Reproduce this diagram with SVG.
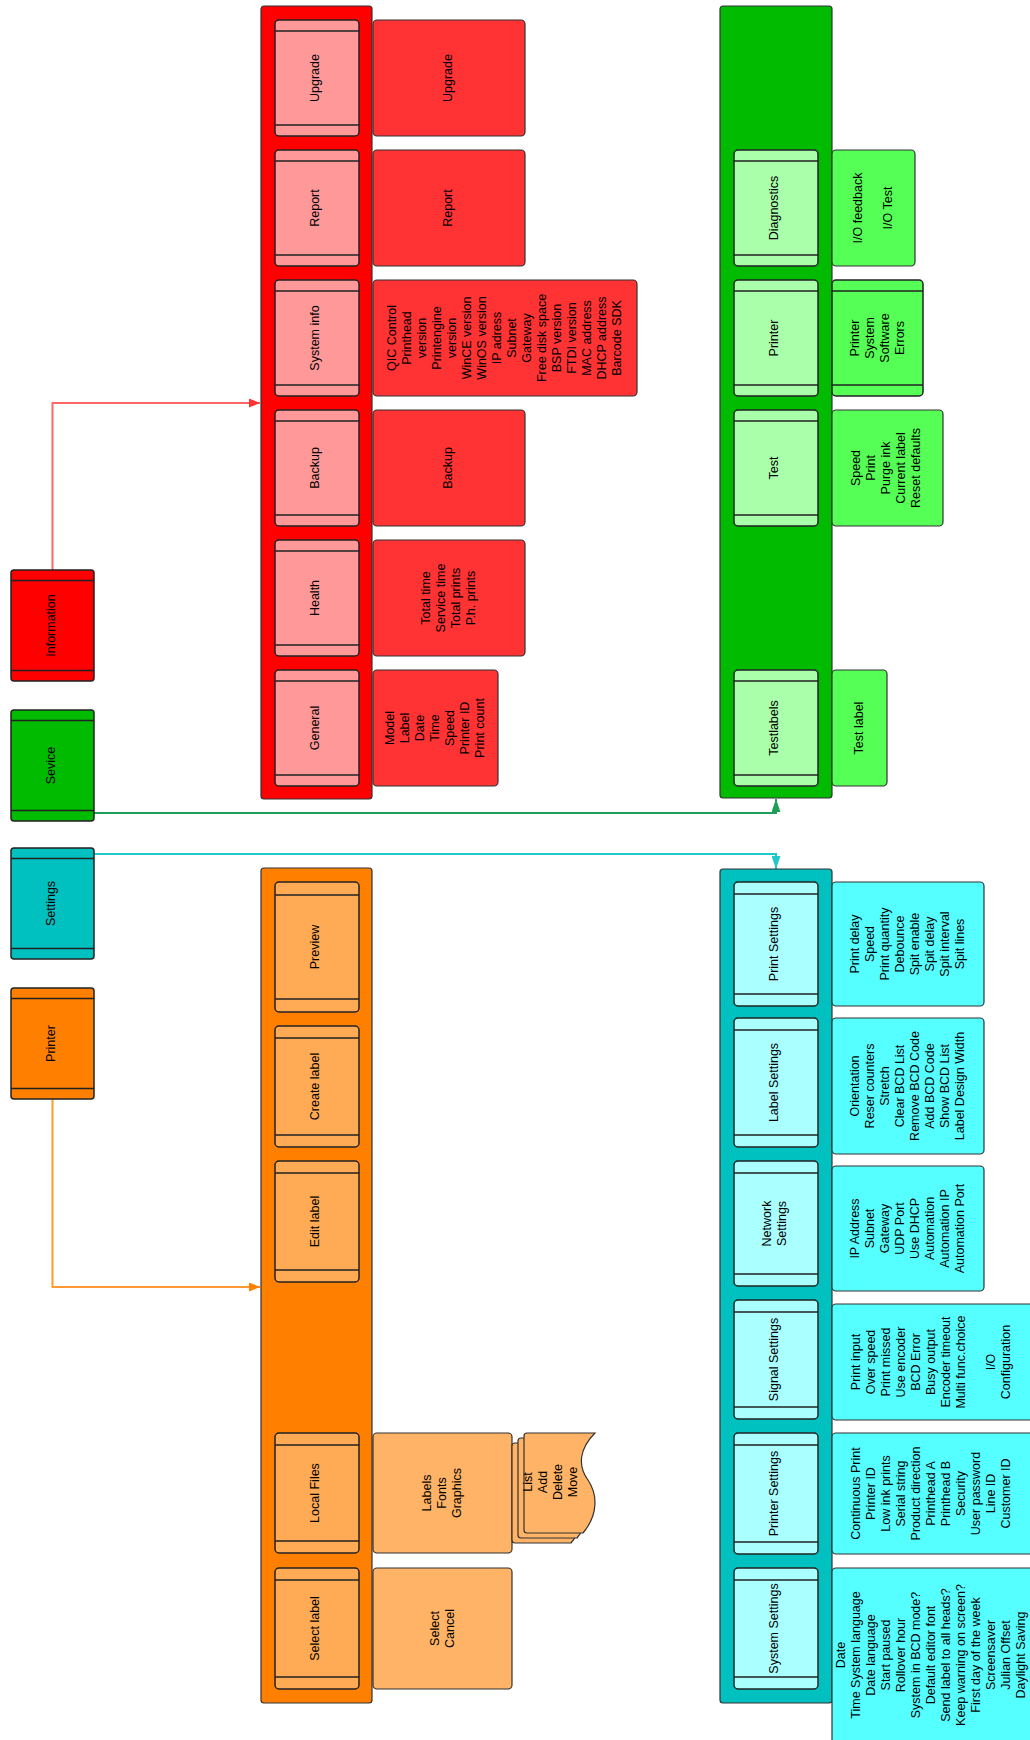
<svg xmlns="http://www.w3.org/2000/svg" width="1030" height="1740" viewBox="0 0 1030 1740">
<defs>
<style>
text{font-family:"Liberation Sans",Arial,sans-serif;font-size:12.5px;fill:#000;text-anchor:middle}
.box{stroke:#333;stroke-width:1.2}
.sub{stroke:#222;stroke-width:1.5}
.band{stroke:#222;stroke-width:1.5;fill:none}
.con{fill:none;stroke-width:2}
.r0{fill:#ff0000}.r1{fill:#ff9999}.r2{fill:#ff3333}
.o0{fill:#ff8000}.o1{fill:#ffaa55}.o2{fill:#ffb366}
.g0{fill:#00bb00}.g1{fill:#aaffaa}.g2{fill:#55ff55}
.c0{fill:#00c0c0}.c1{fill:#aaffff}.c2{fill:#55ffff}
</style>
<marker id="aR" viewBox="0 0 10 10" refX="10" refY="5" markerWidth="11" markerHeight="9" markerUnits="userSpaceOnUse" orient="auto" preserveAspectRatio="none"><path d="M0,0L10,5L0,10z" fill="#ff3333"/></marker>
<marker id="aO" viewBox="0 0 10 10" refX="10" refY="5" markerWidth="11" markerHeight="9" markerUnits="userSpaceOnUse" orient="auto" preserveAspectRatio="none"><path d="M0,0L10,5L0,10z" fill="#ff8000"/></marker>
<marker id="aG" viewBox="0 0 10 10" refX="10" refY="5" markerWidth="13" markerHeight="9" markerUnits="userSpaceOnUse" orient="auto" preserveAspectRatio="none"><path d="M0,0L10,5L0,10z" fill="#1f9e5a"/></marker>
<marker id="aC" viewBox="0 0 10 10" refX="10" refY="5" markerWidth="13" markerHeight="9" markerUnits="userSpaceOnUse" orient="auto" preserveAspectRatio="none"><path d="M0,0L10,5L0,10z" fill="#22c8c8"/></marker>
</defs>
<rect width="1030" height="1740" fill="#fff"/>

<g id="connectors">
<path class="con" d="M52.5,570V403H260" stroke="#ff6666" marker-end="url(#aR)"/>
<path class="con" d="M52.5,1099V1287H260" stroke="#ff9933" marker-end="url(#aO)"/>
<path class="con" d="M94,813H776V799" stroke="#1f9e5a" marker-end="url(#aG)"/>
<path class="con" d="M94,854H776V869" stroke="#22c8c8" marker-end="url(#aC)"/>
</g>

<!-- top level -->
<g id="information">
<rect class="sub r0" x="11" y="570" width="83" height="111" rx="3"/>
<path class="band" d="M11,580.5H94M11,670.5H94"/>
<text transform="translate(52.5 625.5) rotate(-90)" y="2.5">Information</text>
</g>
<g id="service">
<rect class="sub g0" x="11" y="710" width="83" height="111" rx="3"/>
<path class="band" d="M11,720.5H94M11,810.5H94"/>
<text transform="translate(52.5 765.5) rotate(-90)" y="2.5">Sevice</text>
</g>
<g id="settings">
<rect class="sub c0" x="11" y="848" width="83" height="111" rx="3"/>
<path class="band" d="M11,858.5H94M11,948.5H94"/>
<text transform="translate(52.5 903.5) rotate(-90)" y="2.5">Settings</text>
</g>
<g id="printer">
<rect class="sub o0" x="11" y="988" width="83" height="111" rx="3"/>
<path class="band" d="M11,998.5H94M11,1088.5H94"/>
<text transform="translate(52.5 1043.5) rotate(-90)" y="2.5">Printer</text>
</g>

<!-- Information container -->
<g id="info-container">
<rect class="box r0" x="261" y="6" width="111" height="793" rx="3"/>
</g>
<g id="info-upgrade">
<rect class="sub r1" x="275" y="20" width="84" height="116" rx="4"/>
<path class="band" d="M275,31H359M275,125H359"/>
<text transform="translate(317 78) rotate(-90)" y="2">Upgrade</text>
</g>
<g id="info-report">
<rect class="sub r1" x="275" y="150" width="84" height="116" rx="4"/>
<path class="band" d="M275,161H359M275,255H359"/>
<text transform="translate(317 208) rotate(-90)" y="2">Report</text>
</g>
<g id="info-sysinfo">
<rect class="sub r1" x="275" y="280" width="84" height="116" rx="4"/>
<path class="band" d="M275,291H359M275,385H359"/>
<text transform="translate(317 338) rotate(-90)" y="2">System info</text>
</g>
<g id="info-backup">
<rect class="sub r1" x="275" y="410" width="84" height="116" rx="4"/>
<path class="band" d="M275,421H359M275,515H359"/>
<text transform="translate(317 468) rotate(-90)" y="2">Backup</text>
</g>
<g id="info-health">
<rect class="sub r1" x="275" y="540" width="84" height="116" rx="4"/>
<path class="band" d="M275,551H359M275,645H359"/>
<text transform="translate(317 598) rotate(-90)" y="2">Health</text>
</g>
<g id="info-general">
<rect class="sub r1" x="275" y="670" width="84" height="116" rx="4"/>
<path class="band" d="M275,681H359M275,775H359"/>
<text transform="translate(317 728) rotate(-90)" y="2">General</text>
</g>

<g id="info-upgrade-detail">
<rect class="box r2" x="373" y="20" width="152" height="116" rx="4"/>
<text transform="translate(449 78) rotate(-90)" y="3">Upgrade</text>
</g>
<g id="info-report-detail">
<rect class="box r2" x="373" y="150" width="152" height="116" rx="4"/>
<text transform="translate(449 208) rotate(-90)" y="3">Report</text>
</g>
<g id="info-sysinfo-detail">
<rect class="box r2" x="373" y="280" width="264" height="116" rx="4"/>
<text transform="translate(504 338) rotate(-90)">
<tspan x="0" y="-108">QIC Control</tspan><tspan x="0" y="-93">Printhead</tspan><tspan x="0" y="-78">version</tspan><tspan x="0" y="-63">Printengine</tspan><tspan x="0" y="-48">version</tspan><tspan x="0" y="-33">WinCE version</tspan><tspan x="0" y="-18">WinOS version</tspan><tspan x="0" y="-3">IP adress</tspan><tspan x="0" y="12">Subnet</tspan><tspan x="0" y="27">Gateway</tspan><tspan x="0" y="42">Free disk space</tspan><tspan x="0" y="57">BSP version</tspan><tspan x="0" y="72">FTDI version</tspan><tspan x="0" y="87">MAC address</tspan><tspan x="0" y="102">DHCP address</tspan><tspan x="0" y="117">Barcode SDK</tspan>
</text>
</g>
<g id="info-backup-detail">
<rect class="box r2" x="373" y="410" width="152" height="116" rx="4"/>
<text transform="translate(449 468) rotate(-90)" y="3">Backup</text>
</g>
<g id="info-health-detail">
<rect class="box r2" x="373" y="540" width="152" height="116" rx="4"/>
<text transform="translate(448 598) rotate(-90)">
<tspan x="0" y="-18">Total time</tspan><tspan x="0" y="-3">Service time</tspan><tspan x="0" y="12">Total prints</tspan><tspan x="0" y="27">P.h. prints</tspan>
</text>
</g>
<g id="info-general-detail">
<rect class="box r2" x="373" y="670" width="125" height="116" rx="4"/>
<text transform="translate(434 728) rotate(-90)">
<tspan x="0" y="-40.5">Model</tspan><tspan x="0" y="-25.5">Label</tspan><tspan x="0" y="-10.5">Date</tspan><tspan x="0" y="4.5">Time</tspan><tspan x="0" y="19.5">Speed</tspan><tspan x="0" y="34.5">Printer ID</tspan><tspan x="0" y="49.5">Print count</tspan>
</text>
</g>

<!-- Printer container -->
<g id="printer-container">
<rect class="box o0" x="261" y="868" width="111" height="835" rx="3"/>
</g>
<g id="printer-preview">
<rect class="sub o1" x="275" y="882" width="84" height="130" rx="4"/>
<path class="band" d="M275,895H359M275,999H359"/>
<text transform="translate(317 947) rotate(-90)" y="2">Preview</text>
</g>
<g id="printer-create">
<rect class="sub o1" x="275" y="1026" width="84" height="121" rx="4"/>
<path class="band" d="M275,1038H359M275,1135H359"/>
<text transform="translate(317 1086.5) rotate(-90)" y="2">Create label</text>
</g>
<g id="printer-edit">
<rect class="sub o1" x="275" y="1161" width="84" height="121" rx="4"/>
<path class="band" d="M275,1173H359M275,1270H359"/>
<text transform="translate(317 1221.5) rotate(-90)" y="2">Edit label</text>
</g>
<g id="printer-local">
<rect class="sub o1" x="275" y="1433" width="84" height="120" rx="4"/>
<path class="band" d="M275,1445H359M275,1541H359"/>
<text transform="translate(317 1493) rotate(-90)" y="2">Local Files</text>
</g>
<g id="printer-select">
<rect class="sub o1" x="275" y="1568" width="84" height="121" rx="4"/>
<path class="band" d="M275,1580H359M275,1677H359"/>
<text transform="translate(317 1628.5) rotate(-90)" y="2">Select label</text>
</g>
<g id="printer-local-detail">
<rect class="box o2" x="373" y="1433" width="139" height="120" rx="4"/>
<text transform="translate(441 1493) rotate(-90)">
<tspan x="0" y="-10.5">Labels</tspan><tspan x="0" y="4.5">Fonts</tspan><tspan x="0" y="19.5">Graphics</tspan>
</text>
</g>
<g id="printer-select-detail">
<rect class="box o2" x="373" y="1568" width="139" height="121" rx="4"/>
<text transform="translate(442 1628.5) rotate(-90)">
<tspan x="0" y="-3">Select</tspan><tspan x="0" y="12">Cancel</tspan>
</text>
</g>
<g id="printer-files-docs">
<path class="box o2" transform="translate(-12 10)" d="M524,1436Q524,1433 527,1433H595C580,1448 577,1465 588,1480C598,1495 598,1515 583,1533H527Q524,1533 524,1530Z"/>
<path class="box o2" transform="translate(-6 5)" d="M524,1436Q524,1433 527,1433H595C580,1448 577,1465 588,1480C598,1495 598,1515 583,1533H527Q524,1533 524,1530Z"/>
<path class="box o2" d="M524,1436Q524,1433 527,1433H595C580,1448 577,1465 588,1480C598,1495 598,1515 583,1533H527Q524,1533 524,1530Z"/>
<text transform="translate(550 1482) rotate(-90)">
<tspan x="0" y="-18">List</tspan><tspan x="0" y="-3">Add</tspan><tspan x="0" y="12">Delete</tspan><tspan x="0" y="27">Move</tspan>
</text>
</g>

<!-- Service container -->
<g id="service-container">
<rect class="box g0" x="720" y="6" width="112" height="792" rx="3"/>
</g>
<g id="service-diagnostics">
<rect class="sub g1" x="734" y="150" width="84" height="116" rx="4"/>
<path class="band" d="M734,161H818M734,255H818"/>
<text transform="translate(776 208) rotate(-90)" y="2">Diagnostics</text>
</g>
<g id="service-printer">
<rect class="sub g1" x="734" y="280" width="84" height="116" rx="4"/>
<path class="band" d="M734,291H818M734,385H818"/>
<text transform="translate(776 338) rotate(-90)" y="2">Printer</text>
</g>
<g id="service-test">
<rect class="sub g1" x="734" y="410" width="84" height="116" rx="4"/>
<path class="band" d="M734,421H818M734,515H818"/>
<text transform="translate(776 468) rotate(-90)" y="2">Test</text>
</g>
<g id="service-testlabels">
<rect class="sub g1" x="734" y="670" width="84" height="116" rx="4"/>
<path class="band" d="M734,681H818M734,775H818"/>
<text transform="translate(776 728) rotate(-90)" y="2">Testlabels</text>
</g>
<g id="service-diagnostics-detail">
<rect class="box g2" x="832" y="150" width="83" height="116" rx="4"/>
<text transform="translate(872 208) rotate(-90)">
<tspan x="0" y="-10.5">I/O feedback</tspan><tspan x="0" y="19.5">I/O Test</tspan>
</text>
</g>
<g id="service-printer-detail">
<rect class="sub g2" x="832" y="280" width="91" height="116" rx="4"/>
<path class="band" d="M832,291H923M832,385H923"/>
<text transform="translate(877 338) rotate(-90)">
<tspan x="0" y="-18">Printer</tspan><tspan x="0" y="-3">System</tspan><tspan x="0" y="12">Software</tspan><tspan x="0" y="27">Errors</tspan>
</text>
</g>
<g id="service-test-detail">
<rect class="box g2" x="832" y="410" width="111" height="116" rx="4"/>
<text transform="translate(885 468) rotate(-90)">
<tspan x="0" y="-25.5">Speed</tspan><tspan x="0" y="-10.5">Print</tspan><tspan x="0" y="4.5">Purge ink</tspan><tspan x="0" y="19.5">Current label</tspan><tspan x="0" y="34.5">Reset defaults</tspan>
</text>
</g>
<g id="service-testlabels-detail">
<rect class="box g2" x="832" y="670" width="55" height="116" rx="4"/>
<text transform="translate(859.5 728) rotate(-90)" y="3">Test label</text>
</g>

<!-- Settings container -->
<g id="settings-container">
<rect class="box c0" x="720" y="869" width="112" height="834" rx="3"/>
</g>
<g id="settings-print">
<rect class="sub c1" x="734" y="882" width="84" height="124" rx="4"/>
<path class="band" d="M734,894H818M734,994H818"/>
<text transform="translate(776 944) rotate(-90)" y="2">Print Settings</text>
</g>
<g id="settings-label">
<rect class="sub c1" x="734" y="1018" width="84" height="129" rx="4"/>
<path class="band" d="M734,1030H818M734,1135H818"/>
<text transform="translate(776 1082.5) rotate(-90)" y="2">Label Settings</text>
</g>
<g id="settings-network">
<rect class="sub c1" x="734" y="1161" width="84" height="125" rx="4"/>
<path class="band" d="M734,1173H818M734,1274H818"/>
<text transform="translate(776 1223.5) rotate(-90)">
<tspan x="0" y="-5">Network</tspan><tspan x="0" y="10">Settings</tspan>
</text>
</g>
<g id="settings-signal">
<rect class="sub c1" x="734" y="1300" width="84" height="119" rx="4"/>
<path class="band" d="M734,1312H818M734,1407H818"/>
<text transform="translate(776 1359.5) rotate(-90)" y="2">Signal Settings</text>
</g>
<g id="settings-printer">
<rect class="sub c1" x="734" y="1433" width="84" height="121" rx="4"/>
<path class="band" d="M734,1445H818M734,1542H818"/>
<text transform="translate(776 1493.5) rotate(-90)" y="2">Printer Settings</text>
</g>
<g id="settings-system">
<rect class="sub c1" x="734" y="1568" width="84" height="121" rx="4"/>
<path class="band" d="M734,1580H818M734,1677H818"/>
<text transform="translate(776 1628.5) rotate(-90)" y="2">System Settings</text>
</g>

<g id="settings-print-detail">
<rect class="box c2" x="832" y="882" width="152" height="124" rx="4"/>
<text transform="translate(907 944) rotate(-90)">
<tspan x="0" y="-48">Print delay</tspan><tspan x="0" y="-33">Speed</tspan><tspan x="0" y="-18">Print quantity</tspan><tspan x="0" y="-3">Debounce</tspan><tspan x="0" y="12">Spit enable</tspan><tspan x="0" y="27">Spit delay</tspan><tspan x="0" y="42">Spit interval</tspan><tspan x="0" y="57">Spit lines</tspan>
</text>
</g>
<g id="settings-label-detail">
<rect class="box c2" x="832" y="1018" width="152" height="136" rx="4"/>
<text transform="translate(907 1086) rotate(-90)">
<tspan x="0" y="-48">Orientation</tspan><tspan x="0" y="-33">Reser counters</tspan><tspan x="0" y="-18">Stretch</tspan><tspan x="0" y="-3">Clear BCD List</tspan><tspan x="0" y="12">Remove BCD Code</tspan><tspan x="0" y="27">Add BCD Code</tspan><tspan x="0" y="42">Show BCD List</tspan><tspan x="0" y="57">Label Design Width</tspan>
</text>
</g>
<g id="settings-network-detail">
<rect class="box c2" x="832" y="1166" width="152" height="125" rx="4"/>
<text transform="translate(907 1228.5) rotate(-90)">
<tspan x="0" y="-48">IP Address</tspan><tspan x="0" y="-33">Subnet</tspan><tspan x="0" y="-18">Gateway</tspan><tspan x="0" y="-3">UDP Port</tspan><tspan x="0" y="12">Use DHCP</tspan><tspan x="0" y="27">Automation</tspan><tspan x="0" y="42">Automation IP</tspan><tspan x="0" y="57">Automation Port</tspan>
</text>
</g>
<g id="settings-signal-detail">
<rect class="box c2" x="832" y="1304" width="204" height="116" rx="4"/>
<text transform="translate(930 1362) rotate(-90)">
<tspan x="0" y="-70.5">Print input</tspan><tspan x="0" y="-55.5">Over speed</tspan><tspan x="0" y="-40.5">Print missed</tspan><tspan x="0" y="-25.5">Use encoder</tspan><tspan x="0" y="-10.5">BCD Error</tspan><tspan x="0" y="4.5">Busy output</tspan><tspan x="0" y="19.5">Encoder timeout</tspan><tspan x="0" y="34.5">Multi func.choice</tspan><tspan x="0" y="64.5">I/O</tspan><tspan x="0" y="79.5">Configuration</tspan>
</text>
</g>
<g id="settings-printer-detail">
<rect class="box c2" x="832" y="1433" width="204" height="121" rx="4"/>
<text transform="translate(930 1493.5) rotate(-90)">
<tspan x="0" y="-70.5">Continuous Print</tspan><tspan x="0" y="-55.5">Printer ID</tspan><tspan x="0" y="-40.5">Low ink prints</tspan><tspan x="0" y="-25.5">Serial string</tspan><tspan x="0" y="-10.5">Product direction</tspan><tspan x="0" y="4.5">Printhead A</tspan><tspan x="0" y="19.5">Printhead B</tspan><tspan x="0" y="34.5">Security</tspan><tspan x="0" y="49.5">User password</tspan><tspan x="0" y="64.5">Line ID</tspan><tspan x="0" y="79.5">Customer ID</tspan>
</text>
</g>
<g id="settings-system-detail">
<rect class="box c2" x="832" y="1568" width="204" height="182" rx="4"/>
<text transform="translate(930 1655) rotate(-90)">
<tspan x="0" y="-85.5">Date</tspan><tspan x="0" y="-70.5">Time System language</tspan><tspan x="0" y="-55.5">Date language</tspan><tspan x="0" y="-40.5">Start paused</tspan><tspan x="0" y="-25.5">Rollover hour</tspan><tspan x="0" y="-10.5">System in BCD mode?</tspan><tspan x="0" y="4.5">Default editor font</tspan><tspan x="0" y="19.5">Send label to all heads?</tspan><tspan x="0" y="34.5">Keep warning on screen?</tspan><tspan x="0" y="49.5">First day of the week</tspan><tspan x="0" y="64.5">Screensaver</tspan><tspan x="0" y="79.5">Julian Offset</tspan><tspan x="0" y="94.5">Daylight Saving</tspan>
</text>
</g>
</svg>
